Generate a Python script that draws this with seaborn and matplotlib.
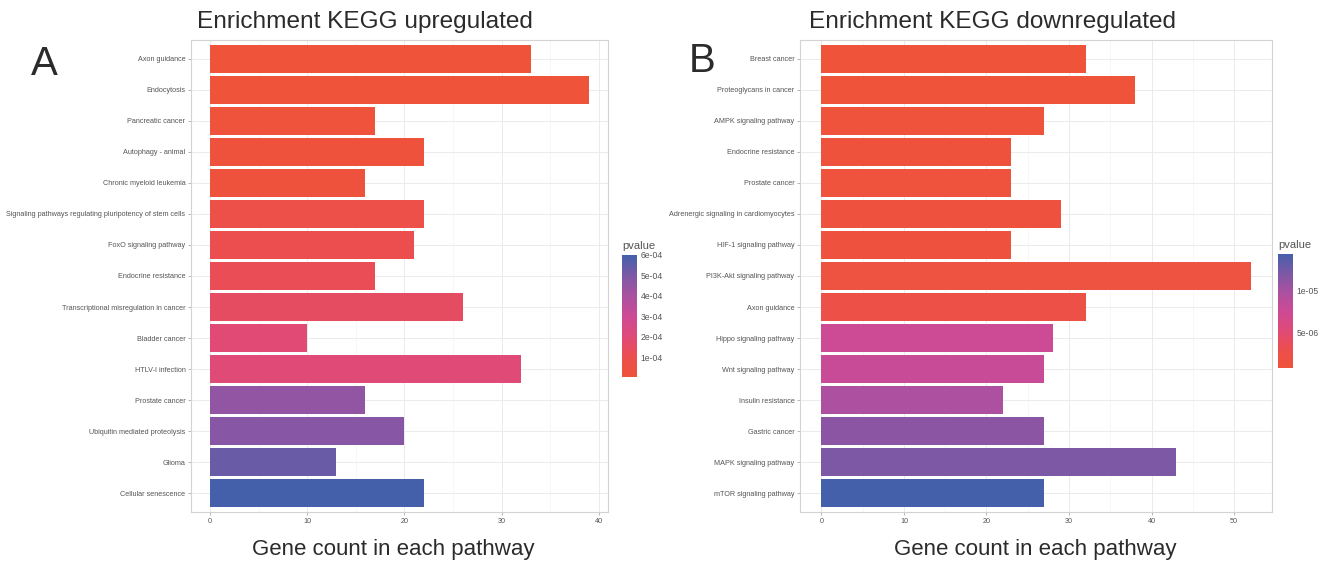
import numpy as np
import pandas as pd
import matplotlib
matplotlib.use("Agg")
import matplotlib.pyplot as plt
import seaborn as sns
from matplotlib.colors import LinearSegmentedColormap, Normalize
from matplotlib.cm import ScalarMappable
from matplotlib.ticker import MultipleLocator

# ---------------- data ----------------
up_pathways = ["Axon guidance", "Endocytosis", "Pancreatic cancer", "Autophagy - animal",
               "Chronic myeloid leukemia",
               "Signaling pathways regulating pluripotency of stem cells",
               "FoxO signaling pathway", "Endocrine resistance",
               "Transcriptional misregulation in cancer", "Bladder cancer",
               "HTLV-I infection", "Prostate cancer", "Ubiquitin mediated proteolysis",
               "Glioma", "Cellular senescence"]
up_counts = [33, 39, 17, 22, 16, 22, 21, 17, 26, 10, 32, 16, 20, 13, 22]
up_pvalues = [2.0e-6, 5.0e-6, 1.0e-5, 1.6e-5, 2.2e-5, 7.0e-5, 1.05e-4, 1.2e-4,
              1.45e-4, 1.9e-4, 1.95e-4, 4.55e-4, 4.75e-4, 5.3e-4, 6.0e-4]
up_cbar_ticks = [1e-4, 2e-4, 3e-4, 4e-4, 5e-4, 6e-4]

down_pathways = ["Breast cancer", "Proteoglycans in cancer", "AMPK signaling pathway",
                 "Endocrine resistance", "Prostate cancer",
                 "Adrenergic signaling in cardiomyocytes", "HIF-1 signaling pathway",
                 "PI3K-Akt signaling pathway", "Axon guidance", "Hippo signaling pathway",
                 "Wnt signaling pathway", "Insulin resistance", "Gastric cancer",
                 "MAPK signaling pathway", "mTOR signaling pathway"]
down_counts = [32, 38, 27, 23, 23, 29, 23, 52, 32, 28, 27, 22, 27, 43, 27]
down_pvalues = [8.0e-7, 9.0e-7, 1.0e-6, 1.1e-6, 1.2e-6, 1.3e-6, 1.4e-6, 1.5e-6,
                2.2e-6, 7.6e-6, 7.9e-6, 9.6e-6, 1.12e-5, 1.2e-5, 1.43e-5]
down_cbar_ticks = [5e-6, 1e-5]

# ---------------- style ----------------
sns.set_theme(style="white")
plt.rcParams["font.family"] = ["Liberation Sans", "DejaVu Sans"]

cmap = LinearSegmentedColormap.from_list(
    "pv", [(0.0, "#EF5339"), (0.17, "#EC4E4F"), (0.33, "#DF4A78"), (0.5, "#CD4A95"),
           (0.67, "#A951A0"), (0.83, "#7C58A5"), (1.0, "#4560AB")])

W, H = 1321, 561
fig = plt.figure(figsize=(W / 100, H / 100), dpi=100)
fig.patch.set_facecolor("white")


def box(l, t, r, b):
    return [l / W, 1 - b / H, (r - l) / W, (b - t) / H]


TXT = "#555555"
DARK = "#2B2B2B"


def panel(ax, cax, cats, counts, pvals, xlim, cticks, title, tx, letter, lx, ly, xlx):
    norm = Normalize(min(pvals), max(pvals))
    colors = [cmap(norm(p)) for p in pvals]
    df = pd.DataFrame({"Description": cats, "Count": counts})
    sns.barplot(data=df, x="Count", y="Description", hue="Description",
                palette=colors, legend=False, orient="h", width=0.9,
                saturation=1, ax=ax, linewidth=0)
    ax.set_xlim(*xlim)
    ax.set_ylim(len(cats) - 0.4, -0.6)
    ax.xaxis.set_major_locator(MultipleLocator(10))
    ax.xaxis.set_minor_locator(MultipleLocator(5))
    ax.set_axisbelow(True)
    ax.grid(True, which="major", color="#EBEBEB", lw=0.7)
    ax.grid(True, which="minor", axis="x", color="#F4F4F4", lw=0.5)
    ax.set_xlabel("")
    ax.set_ylabel("")
    ax.tick_params(axis="both", which="major", length=2.5, width=0.6, color="#AAAAAA",
                   labelsize=5.2, labelcolor=TXT, pad=1.5, left=True, bottom=True)
    ax.tick_params(axis="x", which="minor", length=0)
    for s in ax.spines.values():
        s.set_color("#D3D3D3")
        s.set_linewidth(0.8)

    sm = ScalarMappable(norm=norm, cmap=cmap)
    cb = fig.colorbar(sm, cax=cax)
    cb.outline.set_visible(False)
    cb.set_ticks(cticks)
    cb.ax.set_yticklabels(["%.0e" % v for v in cticks])
    cax.yaxis.set_ticks_position("both")
    cax.tick_params(length=3, width=0.8, color="white", direction="in",
                    labelsize=6.2, labelcolor=TXT, pad=2.5, labelleft=False, labelright=True)
    pos = cax.get_position()
    fig.text(pos.x0, pos.y1 + 4 / H, "pvalue", fontsize=8, color=TXT, va="bottom")

    fig.text(tx / W, 1 - 28 / H, title, fontsize=17.6, color=DARK, va="baseline")
    fig.text(lx / W, 1 - ly / H, letter, fontsize=29, color=DARK, va="baseline")
    fig.text(xlx / W, 1 - 555 / H, "Gene count in each pathway", fontsize=16,
             color=DARK, va="baseline", ha="center")


axA = fig.add_axes(box(191, 40, 608, 512))
axB = fig.add_axes(box(800, 40, 1272, 512))
caxA = fig.add_axes(box(622, 255, 637, 377))
caxB = fig.add_axes(box(1278, 254, 1293, 368))

panel(axA, caxA, up_pathways, up_counts, up_pvalues, (-1.95, 40.95), up_cbar_ticks,
      "Enrichment KEGG upregulated", 197, "A", 31, 75, 393)
panel(axB, caxB, down_pathways, down_counts, down_pvalues, (-2.6, 54.6), down_cbar_ticks,
      "Enrichment KEGG downregulated", 809, "B", 689, 72, 1035)

fig.savefig("out.png", dpi=100, facecolor="white")
